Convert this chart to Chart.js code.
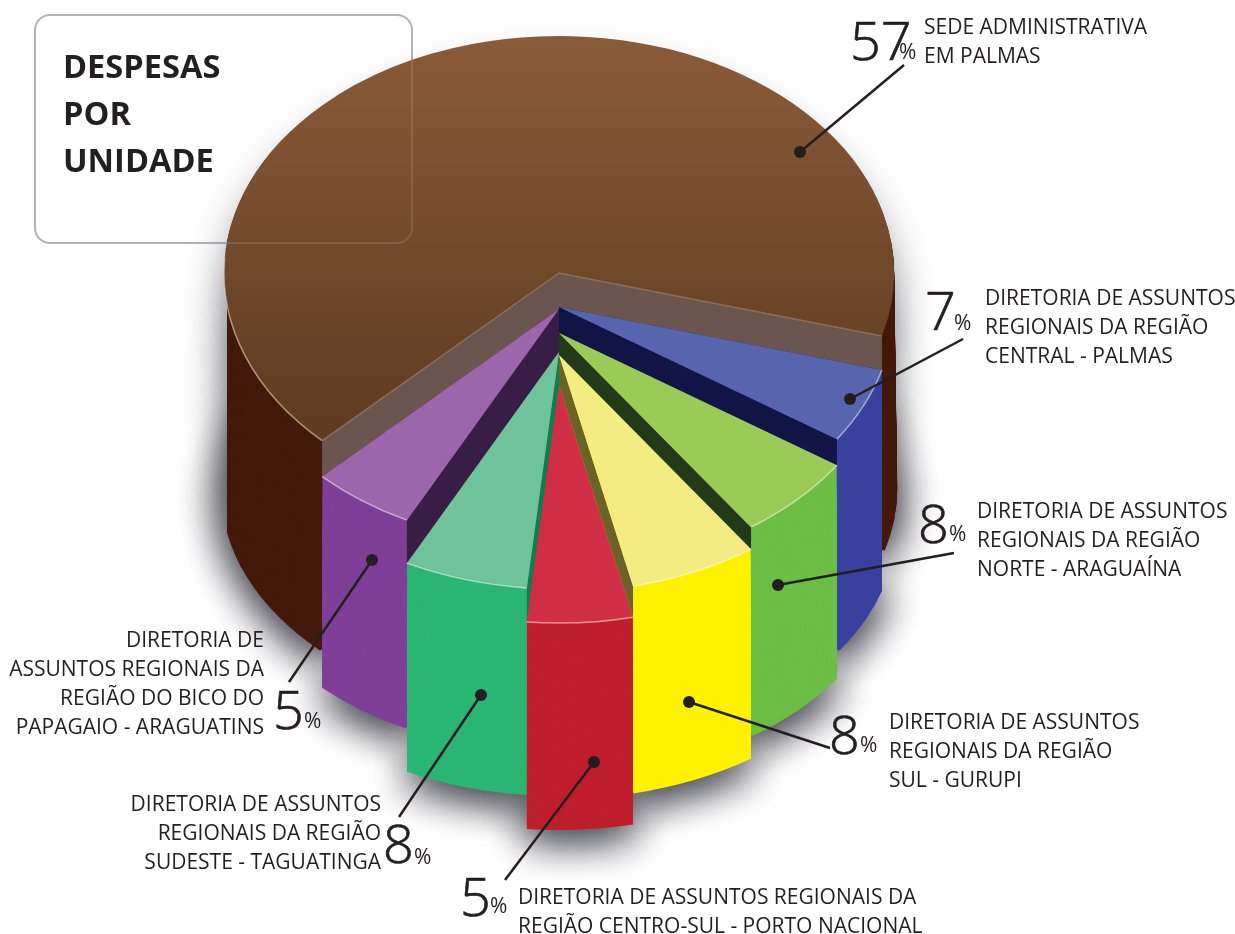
<!DOCTYPE html>
<html lang="pt">
<head>
<meta charset="UTF-8">
<title>Despesas por unidade</title>
<style>
  body { margin: 0; background: #fff; }
  canvas { display: block; }
</style>
</head>
<body>
<canvas id="myChart" width="1235" height="934"></canvas>

<script src="https://cdn.jsdelivr.net/npm/chart.js"></script>
<script>
// first slice is the brown one, then clockwise
const units = [
  ['SEDE ADMINISTRATIVA', 'EM PALMAS'],
  ['DIRETORIA DE ASSUNTOS', 'REGIONAIS DA REGIÃO', 'CENTRAL - PALMAS'],
  ['DIRETORIA DE ASSUNTOS', 'REGIONAIS DA REGIÃO', 'NORTE - ARAGUAÍNA'],
  ['DIRETORIA DE ASSUNTOS', 'REGIONAIS DA REGIÃO', 'SUL - GURUPI'],
  ['DIRETORIA DE ASSUNTOS REGIONAIS DA', 'REGIÃO CENTRO-SUL - PORTO NACIONAL'],
  ['DIRETORIA DE ASSUNTOS', 'REGIONAIS DA REGIÃO', 'SUDESTE - TAGUATINGA'],
  ['DIRETORIA DE', 'ASSUNTOS REGIONAIS DA', 'REGIÃO DO BICO DO', 'PAPAGAIO - ARAGUATINS']
];
// printed numbers
const percents = [57, 7, 8, 8, 5, 8, 5];
// the original art is not proportional, these are the shares as measured on the drawn slices
const drawnShares = [66.8, 5.14, 5.86, 6.17, 5.08, 5.97, 5.0];

const topColors = ['#8a5b38', '#5665ad', '#9bcb57', '#f4ec82', '#d02e45', '#6ec498', '#9b66ab'];
const wallColors = ['#451a0c', '#39439e', '#6dbe45', '#fff200', '#be1e2d', '#2bb673', '#7f3f98'];
const cutColors = ['#6a564e', '#111546', '#233a18', '#6b6228', '#000000', '#147a4f', '#381e45'];
const sliceDrop = [0, 34, 60, 82, 113, 79, 36];

const INK = '#231f20';
const TOP = { cx: 559, cy: 273, rx: 335, ry: 237 };
const BASE = { cx: 559, cy: 490, rx: 338, ry: 227 };

// label placement: [dot x, dot y, line end x, line end y]
const leaders = [
  [800, 152, 904, 65], [850, 399, 963, 339], [778, 585, 954, 553], [689, 702, 830, 748],
  [594, 762, 505, 880], [481, 695, 399, 817], [372, 560, 289, 682]
];
// [big number x, baseline, % x, % baseline]
const numberPos = [
  [850, 60, 899, 59], [925, 330, 954, 330], [918, 543, 949, 541], [829, 754, 860, 752],
  [460, 916, 490, 913], [383, 863, 414, 864], [273, 729, 304, 728]
];
// [x, first baseline, align]
const textPos = [
  [924, 34, 'left'], [985, 305, 'left'], [977, 518, 'left'], [889, 729, 'left'],
  [518, 904, 'left'], [381, 811, 'right'], [264, 647, 'right']
];
const titleLines = ['DESPESAS', 'POR', 'UNIDADE'];

function layer(t) {
  return {
    cx: TOP.cx + (BASE.cx - TOP.cx) * t,
    cy: TOP.cy + (BASE.cy - TOP.cy) * t,
    rx: TOP.rx + (BASE.rx - TOP.rx) * t,
    ry: TOP.ry + (BASE.ry - TOP.ry) * t
  };
}

function paintArc(ctx, arc, color, shape, drop) {
  const r = arc.outerRadius;
  const saved = arc.options;
  ctx.save();
  ctx.translate(shape.cx, shape.cy + drop);
  ctx.scale(shape.rx / r, shape.ry / r);
  ctx.translate(-arc.x, -arc.y);
  arc.options = Object.create(saved);
  arc.options.backgroundColor = color;
  arc.draw(ctx);
  arc.options = saved;
  ctx.restore();
}

function rimPoint(angle, drop) {
  return [TOP.cx + TOP.rx * Math.cos(angle), TOP.cy + drop + TOP.ry * Math.sin(angle)];
}

function paintCut(ctx, angle, from, to, color) {
  const a = rimPoint(angle, from), b = rimPoint(angle, to);
  ctx.fillStyle = color;
  ctx.beginPath();
  ctx.moveTo(TOP.cx, TOP.cy + from);
  ctx.lineTo(a[0], a[1]);
  ctx.lineTo(b[0], b[1]);
  ctx.lineTo(TOP.cx, TOP.cy + to);
  ctx.closePath();
  ctx.fill();
}

function rimLine(ctx, start, end, drop, color, width) {
  ctx.strokeStyle = color;
  ctx.lineWidth = width;
  ctx.beginPath();
  ctx.ellipse(TOP.cx, TOP.cy + drop, TOP.rx, TOP.ry, 0, start, end);
  ctx.stroke();
}

function box(ctx, color) {
  ctx.strokeStyle = color;
  ctx.lineWidth = 2;
  ctx.beginPath();
  ctx.roundRect(35, 15, 377, 228, 15);
  ctx.stroke();
}

const slabs = {
  id: 'slabs',
  beforeDatasetsDraw(chart) {
    const ctx = chart.ctx;
    const arcs = chart.getDatasetMeta(0).data;
    const n = arcs.length;

    box(ctx, '#a9aaae');

    // soft shadow of the whole body, shapes sit off canvas so only the shadow lands
    ctx.save();
    ctx.shadowColor = 'rgba(50,50,60,0.55)';
    ctx.shadowBlur = 40;
    ctx.shadowOffsetX = 3000;
    ctx.shadowOffsetY = 8;
    for (const t of [0.1, 0.5, 1, 1, 1]) {
      const s = layer(t);
      s.cx -= 3000;
      arcs.forEach((arc, i) => paintArc(ctx, arc, '#000', s, sliceDrop[i]));
    }
    ctx.restore();

    const order = arcs.map((a, i) => i).sort((a, b) => sliceDrop[a] - sliceDrop[b]);
    order.forEach((i) => {
      const arc = arcs[i];
      const drop = sliceDrop[i];

      // outer wall, stacked from the base up. Clipped so the edges stay vertical
      ctx.save();
      let left = 227, right = chart.width;
      if (i > 0) {
        const xs = [TOP.cx, rimPoint(arc.startAngle, 0)[0], rimPoint(arc.endAngle, 0)[0]];
        left = Math.min(...xs);
        right = Math.max(...xs);
      }
      ctx.beginPath();
      ctx.rect(left, 0, right - left, chart.height);
      ctx.clip();
      const steps = BASE.cy - TOP.cy;
      for (let s = steps; s > 0; s--) {
        paintArc(ctx, arc, wallColors[i], layer(s / steps), drop);
      }
      ctx.restore();

      // inner walls against lower neighbours
      const next = (i + 1) % n, prev = (i + n - 1) % n;
      if (sliceDrop[next] > drop) paintCut(ctx, arc.endAngle, drop, sliceDrop[next], cutColors[i]);
      if (sliceDrop[prev] > drop) paintCut(ctx, arc.startAngle, drop, sliceDrop[prev], cutColors[i]);

      // top face
      let fill = topColors[i];
      if (i === 0) {
        const r = arc.outerRadius;
        fill = ctx.createLinearGradient(0, arc.y - r, 0, arc.y + (440 - TOP.cy) / TOP.ry * r);
        fill.addColorStop(0, topColors[0]);
        fill.addColorStop(1, '#5d3a20');
      }
      paintArc(ctx, arc, fill, TOP, drop);

      if (i === 0) {
        rimLine(ctx, arc.startAngle, arc.startAngle + 0.85, 0, 'rgba(225,200,180,0.65)', 1.5);
        ctx.strokeStyle = 'rgba(190,160,140,0.45)';
        ctx.lineWidth = 1.5;
        const a = rimPoint(arc.startAngle, 0), b = rimPoint(arc.endAngle, 0);
        ctx.beginPath();
        ctx.moveTo(a[0], a[1]);
        ctx.lineTo(TOP.cx, TOP.cy);
        ctx.lineTo(b[0], b[1]);
        ctx.stroke();
      } else {
        rimLine(ctx, arc.startAngle, arc.endAngle, drop, 'rgba(255,255,255,0.5)', 1.5);
      }
    });

    box(ctx, 'rgba(255,255,255,0.12)');
    return false;
  },
  afterDraw(chart) {
    const ctx = chart.ctx;
    ctx.save();
    ctx.fillStyle = INK;
    ctx.strokeStyle = INK;
    ctx.textBaseline = 'alphabetic';

    leaders.forEach((l) => {
      ctx.lineWidth = 2.5;
      ctx.beginPath();
      ctx.moveTo(l[0], l[1]);
      ctx.lineTo(l[2], l[3]);
      ctx.stroke();
      ctx.beginPath();
      ctx.arc(l[0], l[1], 6, 0, Math.PI * 2);
      ctx.fill();
    });

    ctx.textAlign = 'left';
    ctx.font = 'bold 32.6px "Open Sans"';
    titleLines.forEach((t, i) => ctx.fillText(t, 63, 78 + i * 47));

    percents.forEach((p, i) => {
      const pos = numberPos[i];
      ctx.textAlign = 'left';
      ctx.font = '300 54px "Open Sans"';
      ctx.lineWidth = 0.7;
      ctx.fillText(String(p), pos[0], pos[1]);
      ctx.strokeText(String(p), pos[0], pos[1]);
      ctx.font = '21px "Open Sans"';
      ctx.fillText('%', pos[2], pos[3]);
    });

    ctx.font = '21px "Open Sans"';
    units.forEach((lines, i) => {
      const pos = textPos[i];
      ctx.textAlign = pos[2];
      lines.forEach((line, k) => ctx.fillText(line, pos[0], pos[1] + k * 29));
    });
    ctx.restore();
  }
};

new Chart(document.getElementById('myChart'), {
  type: 'pie',
  data: {
    labels: units.map((u) => u.join(' ')),
    datasets: [{ data: drawnShares, backgroundColor: topColors, borderWidth: 0 }]
  },
  options: {
    responsive: false,
    animation: false,
    rotation: 225,
    layout: { padding: { left: 224, right: 341, top: 132, bottom: 132 } },
    plugins: { legend: { display: false }, tooltip: { enabled: false } }
  },
  plugins: [slabs]
});
</script>
</body>
</html>
